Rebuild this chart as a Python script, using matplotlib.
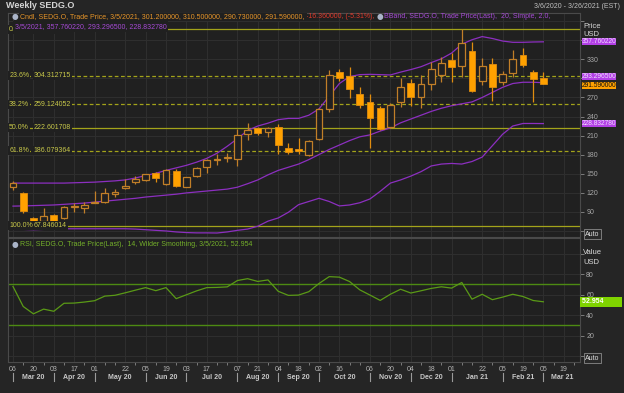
import numpy as np
import matplotlib.pyplot as plt
from matplotlib.transforms import blended_transform_factory as blend

plt.rcParams['font.family'] = ['Liberation Sans', 'DejaVu Sans']

# weekly candles, 3/6/2020 .. 3/5/2021
opens = [128.5, 119, 80.5, 75.5, 84, 79.6, 97.5, 95.5, 104, 105,
         117.5, 128, 136.5, 139.5, 150.5, 133.5, 154, 129.5, 146.5, 161,
         172, 175, 173, 212.5, 221.5, 216, 224, 190, 188.5, 179.5,
         204, 252, 309.5, 304, 275.5, 262.5, 254, 223, 263.5, 293.5,
         270.5, 291, 305.5, 329, 320, 343.5, 296.5, 322, 294, 308,
         337, 309.5, 301.2]
highs = [138.5, 121, 82, 95.3, 86.3, 98.5, 103, 105, 123, 127,
         125.3, 141, 146.3, 150, 152, 156.5, 157, 145, 161, 173,
         180.5, 182, 220, 230, 223, 224, 228, 198.7, 206.6, 203,
         254, 313, 315, 317.5, 286, 275, 256, 262, 300, 299,
         305, 326, 334, 339.5, 377.357462, 358, 331.5, 331.5, 312, 345,
         348.5, 313, 310.5]
lows = [124, 88, 67.846014, 74, 74.5, 78, 90, 87.5, 103, 103,
        113.6, 126, 133.6, 138, 137, 132.5, 128.4, 128.5, 144, 151.5,
        163, 169, 162.6, 203, 211, 208, 181, 180.4, 180.4, 178,
        203, 247.5, 296, 269, 253, 190, 218, 221.5, 255.5, 256,
        253, 282, 295, 295, 302.7, 278, 289.5, 264.5, 289.5, 302.7,
        318.5, 263, 290.73]
closes = [135, 91, 75.3, 83, 76, 97, 98.5, 100.5, 105.5, 119,
          121, 131, 142, 149, 143, 155.5, 131, 144, 159.5, 171.5,
          173, 176, 211, 219, 213.5, 221.5, 195, 184, 186, 201.5,
          251.5, 305, 301, 283, 258, 237, 220.5, 258, 287, 271,
          291, 314.5, 324, 317.5, 355.5, 280.5, 320, 287, 307, 330,
          321, 298.5, 291.59]

bb_upper = [135, 135, 135, 135, 135, 135, 135.5, 136, 136.5, 137.5,
            138.5, 140, 143, 147, 150.5, 155, 159, 163, 168, 174,
            182, 193, 205, 218, 225, 229.5, 235, 237, 237, 242,
            252, 272, 292, 303, 306, 306.5, 306, 305.5, 310, 314,
            318.5, 325, 331, 340, 354, 361, 366, 363, 359, 357,
            357, 357.5, 357.76022]
bb_mid = [98.7, 99, 99.5, 100, 100.5, 101.5, 102.5, 103.5, 105, 106.5,
          108, 109.5, 111, 113, 114.5, 116, 117.5, 119.5, 121, 122.5,
          124, 125.5, 128.5, 134, 140, 148, 155, 160, 165, 172,
          180, 188, 195, 202, 208, 211, 217, 222, 230, 236,
          242, 248, 253, 257, 260, 263, 270, 278, 286, 292,
          294, 294, 293.2965]
bb_lower = [62, 62, 61.5, 62, 62.5, 63, 63, 63, 63, 63,
            63, 63, 62.5, 61.5, 60.5, 59.5, 58, 57, 56.5, 56.5,
            56.3, 58, 60.5, 62.5, 67, 75, 80, 89, 101, 106,
            111, 106, 99, 100.5, 104, 110, 122, 135, 140, 146,
            153, 162, 165, 166, 165, 169, 176, 194, 212, 225,
            229, 229, 228.83278]

rsi = [67.9, 48.4, 41.2, 45.8, 43.7, 51.5, 51.7, 52.7, 54, 58.5,
       59.3, 61.7, 64.3, 66.8, 63.8, 66.8, 56, 59.8, 63.6, 66.8,
       67, 67.5, 73.7, 75.5, 72.8, 74.3, 63.2, 59.2, 59.5, 62.8,
       70.8, 77.5, 77, 72.7, 64.6, 59.5, 54.3, 60.3, 65.2, 61.5,
       63.7, 66, 67.6, 66.3, 71.8, 55.5, 60.3, 55, 57.5, 60.3,
       58.1, 54.2, 52.954]

fib_pct = ['0.0%', '23.6%', '38.2%', '50.0%', '61.8%', '100.0%']
fib_val = [377.357462, 304.312715, 259.124052, 222.601708, 186.079364, 67.846014]
fib_dash = [False, True, True, False, True, False]

day_ticks = [0, 2, 4, 6, 8, 11, 13, 15, 17, 19, 22, 24, 26, 28, 30, 32,
             35, 37, 39, 41, 43, 46, 48, 50, 52, 54]
day_labels = ['06', '20', '03', '17', '01', '22', '05', '19', '03', '17',
              '07', '21', '04', '18', '02', '16', '06', '20', '04', '18',
              '01', '22', '05', '19', '05', '19']
month_starts = [0, 4, 8, 13, 17, 22, 26, 30, 35, 39, 43, 48, 52]
month_labels = ['Mar 20', 'Apr 20', 'May 20', 'Jun 20', 'Jul 20', 'Aug 20',
                'Sep 20', 'Oct 20', 'Nov 20', 'Dec 20', 'Jan 21', 'Feb 21',
                'Mar 21']

FIG_BG = '#252525'
BG = '#202020'
GRID = '#2f2f2f'
SPINE = '#4a4a4a'
TICK_TXT = '#a8a8a8'
FIB = '#a3a31a'
FIB_TXT = '#c9c94a'
PURPLE = '#8c2fc0'
PURPLE_TXT = '#a64ad6'
TAG_PURPLE = '#b340e6'
UP_EDGE = '#c17f28'
DN_FACE = '#ffa100'
DN_EDGE = '#e08d10'
ORANGE_TXT = '#e8962a'
RED_TXT = '#e0392b'
GREEN = '#5a9a16'
GREEN_TXT = '#74b02a'
FS = 5

W, H = 624, 393
XMIN, XMAX = -0.49, 55.59


def fx(px):
    return px / W


def fy(py):
    return 1 - py / H


fig = plt.figure(figsize=(W / 100, H / 100), dpi=100, facecolor=FIG_BG)
ax = fig.add_axes([fx(8), fy(237), fx(580) - fx(8), fy(13) - fy(237)], facecolor=BG)
ax2 = fig.add_axes([fx(8), fy(362), fx(580) - fx(8), fy(238) - fy(362)], facecolor=BG)

# ---------- price panel ----------
x = np.arange(len(closes))
o = np.array(opens)
c = np.array(closes)
h = np.array(highs)
l = np.array(lows)
up = c >= o
lo_b = np.minimum(o, c)
hgt = np.maximum(np.abs(c - o), 0.8)

ax.plot(x, bb_upper, color=PURPLE, lw=0.9, zorder=2.5)
ax.plot(x, bb_mid, color=PURPLE, lw=0.9, zorder=2.5)
ax.plot(x, bb_lower, color=PURPLE, lw=0.9, zorder=2.5)

for v, d in zip(fib_val, fib_dash):
    ax.axhline(v, color=FIB, lw=0.9, ls=(0, (3, 2)) if d else '-', zorder=2)

ax.vlines(x[up], l[up], h[up], color=UP_EDGE, lw=0.9, zorder=3)
ax.vlines(x[~up], l[~up], h[~up], color=DN_EDGE, lw=0.9, zorder=3)
ax.bar(x[up], hgt[up], bottom=lo_b[up], width=0.66, facecolor=BG,
       edgecolor=UP_EDGE, lw=0.9, zorder=4)
ax.bar(x[~up], hgt[~up], bottom=lo_b[~up], width=0.66, facecolor=DN_FACE,
       edgecolor=DN_EDGE, lw=0.6, zorder=4)

tr = blend(ax.transAxes, ax.transData)
for p, v in zip(fib_pct, fib_val):
    ax.text(0.002, v, p, transform=tr, fontsize=FS, color=FIB_TXT, va='center',
            ha='left', zorder=6, bbox=dict(boxstyle='square,pad=0.15', fc=BG, ec='none'))
    ax.text(0.045, v, f'{v:.6f}', transform=tr, fontsize=FS, color=FIB_TXT,
            va='center', ha='left', zorder=6,
            bbox=dict(boxstyle='square,pad=0.15', fc=BG, ec='none'))

ax.set_xlim(XMIN, XMAX)
ax.set_ylim(50.0, 403.2)
ax.set_xticks(day_ticks)
ax.tick_params(axis='x', length=0, labelbottom=False)
yt = list(range(60, 391, 30))
ax.set_yticks(yt)
# 300 sits under the value tags in the original, so it's left blank
ax.set_yticklabels([str(v) if 90 <= v <= 330 and v != 300 else '' for v in yt])
ax.yaxis.tick_right()
ax.tick_params(axis='y', length=3, width=0.6, color='#8a8a8a', labelcolor=TICK_TXT,
               labelsize=FS, pad=1.5)
ax.grid(True, color=GRID, lw=0.7)
for s in ax.spines.values():
    s.set_color(SPINE)
    s.set_linewidth(0.8)

# value tags on the price scale (293.3 pushed up to clear the close tag)
tags = [(bb_upper[-1], TAG_PURPLE, '#f0dcff', 0),
        (bb_mid[-1], TAG_PURPLE, '#f0dcff', 4.6),
        (closes[-1], DN_FACE, '#101010', -1.2),
        (bb_lower[-1], TAG_PURPLE, '#f0dcff', 0)]
for v, bg, fg, dy in tags:
    ax.annotate(f'{v:.6f}', xy=(1, v), xycoords=tr, xytext=(1.2, dy),
                textcoords='offset points', ha='left', va='center', fontsize=4.8,
                color=fg, annotation_clip=False, zorder=10,
                bbox=dict(boxstyle='square,pad=0.0', fc=bg, ec='none'))

# ---------- RSI panel ----------
ax2.plot(x, rsi, color=GREEN, lw=0.9, zorder=3)
ax2.axhline(70, color='#4d8a12', lw=1.0, zorder=2)
ax2.axhline(30, color='#4d8a12', lw=1.0, zorder=2)
ax2.set_xlim(XMIN, XMAX)
ax2.set_ylim(-5.8, 115.2)
ax2.set_yticks([0, 20, 40, 60, 80, 100])
ax2.set_yticklabels(['', '20', '40', '60', '80', ''])
ax2.yaxis.tick_right()
ax2.tick_params(axis='y', length=3, width=0.6, color='#8a8a8a', labelcolor=TICK_TXT,
                labelsize=FS, pad=1.5)
ax2.set_xticks(day_ticks)
ax2.set_xticklabels(day_labels)
ax2.set_xticks([i for i in range(56) if i not in day_ticks], minor=True)
ax2.tick_params(axis='x', which='major', length=0, pad=3, labelsize=FS,
                labelcolor='#b4b4b4')
ax2.tick_params(axis='x', which='minor', length=2, width=0.6, color='#8a8a8a')
ax2.grid(True, color=GRID, lw=0.7)
for s in ax2.spines.values():
    s.set_color(SPINE)
    s.set_linewidth(0.8)

ax2.annotate(f'{rsi[-1]:.3f}' + ' ' * 9, xy=(1, rsi[-1]),
             xycoords=blend(ax2.transAxes, ax2.transData), xytext=(1.2, 0),
             textcoords='offset points', ha='left', va='center', fontsize=FS,
             color='white', weight='bold', annotation_clip=False, zorder=10,
             bbox=dict(boxstyle='square,pad=0.2', fc='#7fd300', ec='none'))

trm = blend(ax2.transData, ax2.transAxes)
bounds = month_starts + [XMAX]
for i, lab in enumerate(month_labels):
    ax2.text((bounds[i] + bounds[i + 1]) / 2, -0.121, lab, transform=trm,
             ha='center', va='center', fontsize=FS, weight='bold', color='#c8c8c8')
    ax2.plot([month_starts[i]] * 2, [-0.09, -0.155], transform=trm, color='#9a9a9a',
             lw=0.8, clip_on=False)

# ---------- legends and labels ----------
fig.text(fx(6), fy(6), 'Weekly SEDG.O', fontsize=6.5, weight='bold', color='#d4d4d4',
         va='center', ha='left')
fig.text(fx(620), fy(6), '3/6/2020 - 3/26/2021 (EST)', fontsize=FS, color='#c0c0c0',
         va='center', ha='right')

icon = dict(fontsize=5.5, color='#aab4c8', va='center', ha='center',
            family=['DejaVu Sans'])
fig.text(fx(15), fy(17), '\u25cf', **icon)
t1 = fig.text(fx(20), fy(17), 'Cndl, SEDG.O, Trade Price, 3/5/2021, 301.200000, '
              '310.500000, 290.730000, 291.590000, ', fontsize=FS, color=ORANGE_TXT,
              va='center', ha='left', zorder=8,
              bbox=dict(boxstyle='square,pad=0.1', fc=BG, ec='none'))
t2 = ax.annotate('-16.360000, (-5.31%), ', xy=(1, 0), xycoords=t1, fontsize=FS,
                 color=RED_TXT, va='bottom', ha='left', annotation_clip=False)
t3 = ax.annotate('\u25cf', xy=(1, 0), xycoords=t2, fontsize=5.5, color='#aab4c8',
                 va='bottom', ha='left', family=['DejaVu Sans'], annotation_clip=False)
ax.annotate('BBand, SEDG.O, Trade Price(Last),  20, Simple, 2.0,', xy=(1, 0),
            xycoords=t3, fontsize=FS, color=PURPLE_TXT, va='bottom', ha='left',
            annotation_clip=False)
fig.text(fx(15), fy(26.5), '3/5/2021, 357.760220, 293.296500, 228.832780', fontsize=FS,
         color=PURPLE_TXT, va='center', ha='left', zorder=8,
         bbox=dict(boxstyle='square,pad=0.25', fc=BG, ec='none'))

fig.text(fx(15), fy(244), '\u25cf', **icon)
fig.text(fx(20), fy(244), 'RSI, SEDG.O, Trade Price(Last),  14, Wilder Smoothing, '
         '3/5/2021, 52.954', fontsize=FS, color=GREEN_TXT, va='center', ha='left')

for txt, py in [('Price', 27), ('USD', 35), ('Value', 253), ('USD', 262)]:
    fig.text(fx(583), fy(py), txt, fontsize=5.5, color='#d8d8d8', va='center',
             ha='left', zorder=5)
for py in [234, 358]:
    fig.text(fx(585), fy(py), 'Auto', fontsize=FS, color='#e0e0e0', va='center',
             ha='left', zorder=9,
             bbox=dict(boxstyle='square,pad=0.2', fc='#2a2a2a', ec='#8a8a8a', lw=0.6))

fig.savefig('out.png', dpi=100, facecolor=FIG_BG)
